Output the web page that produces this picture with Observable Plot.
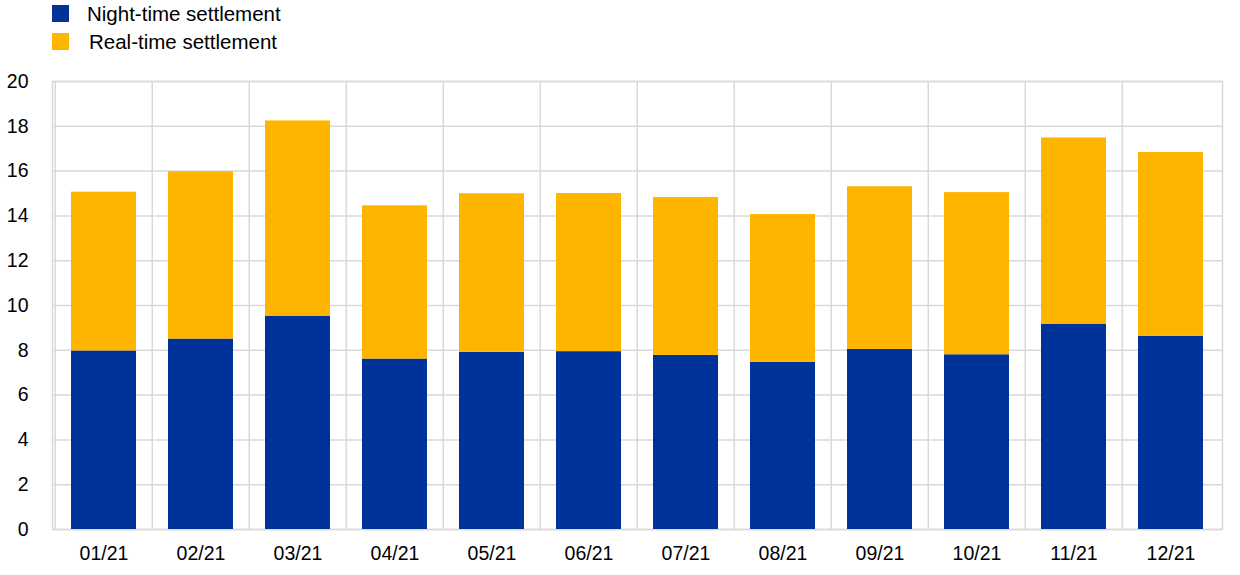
<!DOCTYPE html>
<html><head><meta charset="utf-8">
<script src="https://cdn.jsdelivr.net/npm/d3@7"></script>
<script src="https://cdn.jsdelivr.net/npm/@observablehq/plot@0.6"></script>
<style>
body{margin:0;background:#fff;font-family:"Liberation Sans",Arial,sans-serif;}
#legend{position:relative;height:60px;width:1240px;}
.sw{position:absolute;width:17px;height:17px;}
.lt{position:absolute;font-size:20.5px;line-height:20px;color:#000;white-space:nowrap;}
#chart svg{display:block;}
</style></head><body>
<div id="legend"></div>
<div id="chart"></div>
<script>
const months = ["01/21","02/21","03/21","04/21","05/21","06/21","07/21","08/21","09/21","10/21","11/21","12/21"];
const seriesNames = ["Night-time settlement","Real-time settlement"];
const seriesColors = ["#003299","#FFB400"];
const nightTime = [7.97, 8.50, 9.51, 7.61, 7.91, 7.94, 7.77, 7.46, 8.04, 7.80, 9.17, 8.62];
const realTime  = [7.09, 7.47, 8.73, 6.84, 7.08, 7.06, 7.05, 6.60, 7.26, 7.24, 8.31, 8.21];
const yTicks = [0,2,4,6,8,10,12,14,16,18,20];

// legend
const legend = document.getElementById("legend");
const legendRows = [{top:5, textLeft:87},{top:33, textLeft:89}];
seriesNames.forEach((name,i)=>{
  const sw=document.createElement("div");sw.className="sw";
  sw.style.left="52px";sw.style.top=legendRows[i].top+"px";sw.style.background=seriesColors[i];
  legend.appendChild(sw);
  const t=document.createElement("div");t.className="lt";t.textContent=name;
  t.style.left=legendRows[i].textLeft+"px";t.style.top=(legendRows[i].top-1)+"px";
  legend.appendChild(t);
});

const data = [];
months.forEach((m,i)=>{
  data.push({month:m, series:seriesNames[0], value:nightTime[i]});
  data.push({month:m, series:seriesNames[1], value:realTime[i]});
});

const W=1240, H=515, mL=52, mR=18, mT=21, mB=46;
const step=(W-mL-mR)/months.length;
const grid="#d9d9d9";

const chart = Plot.plot({
  width:W, height:H, marginLeft:mL, marginRight:mR, marginTop:mT, marginBottom:mB,
  style:{fontFamily:"Liberation Sans, Arial, sans-serif", fontSize:"19.5px", color:"#000", background:"#fff"},
  x:{type:"band", domain:months, paddingInner:1/3, paddingOuter:1/6, label:null},
  y:{domain:[0,20], label:null},
  color:{domain:seriesNames, range:seriesColors},
  marks:[
    Plot.ruleY(yTicks,{stroke:grid, strokeWidth:1.5}),
    Plot.ruleX(months,{x:d=>d, dx:-step/2, stroke:grid, strokeWidth:1.5}),
    Plot.frame({stroke:grid, strokeWidth:1.5}),
    Plot.barY(data,{x:"month", y:"value", fill:"series", order:seriesNames}),
    Plot.axisY({ticks:yTicks, tickSize:0, tickPadding:24, label:null}),
    Plot.axisX({tickSize:0, tickPadding:17, label:null})
  ]
});
document.getElementById("chart").appendChild(chart);
</script>
</body></html>
